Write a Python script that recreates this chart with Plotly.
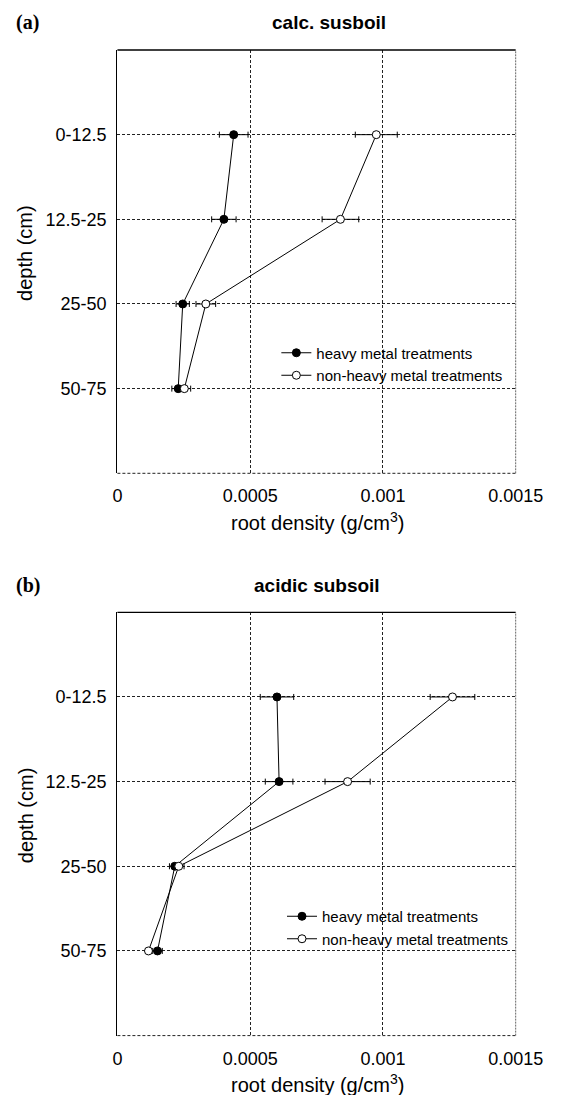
import plotly.graph_objects as go

W, H = 571, 1095

depth_labels = ["0-12.5", "12.5-25", "25-50", "50-75"]
depth_pos = [0, 1, 2, 3]

# panel (a) calc. subsoil
a_heavy = [0.000438, 0.000401, 0.000246, 0.000229]
a_heavy_err = [0.000054, 0.000046, 0.000025, 0.000024]
a_non = [0.000975, 0.000840, 0.000333, 0.000252]
a_non_err = [0.000079, 0.000069, 0.000037, 0.000024]

# panel (b) acidic subsoil
b_heavy = [0.000601, 0.000609, 0.000216, 0.000151]
b_heavy_err = [0.000063, 0.000052, 0.000020, 0.000018]
b_non = [0.001262, 0.000867, 0.000231, 0.000117]
b_non_err = [0.000084, 0.000085, 0.000020, 0.000008]

x_ticks = [0, 0.0005, 0.001, 0.0015]
x_ticktext = ["0", "0.0005", "0.001", "0.0015"]

series_names = ["heavy metal treatments", "non-heavy metal treatments"]

FONT = "Liberation Sans, Arial, Helvetica, sans-serif"
SERIF = "Liberation Serif, Times New Roman, serif"

def px_x(p):
    return p / W

def px_y(p):
    return 1 - p / H

PL, PR = 119.3, 542
PANEL_TOPS = [50, 612.3]
PANEL_H = 423.3

x_dom = [px_x(PL), px_x(PR)]
ya_dom = [px_y(PANEL_TOPS[0] + PANEL_H), px_y(PANEL_TOPS[0])]
yb_dom = [px_y(PANEL_TOPS[1] + PANEL_H), px_y(PANEL_TOPS[1])]

fig = go.Figure()

def add_series(vals, errs, name, filled, xa, ya, legend):
    fig.add_trace(go.Scatter(
        x=vals, y=depth_pos, mode="lines+markers", name=name,
        xaxis=xa, yaxis=ya, legend=legend,
        line=dict(color="black", width=1),
        marker=dict(symbol="circle", size=8,
                    color="black" if filled else "white",
                    line=dict(color="black", width=1)),
        error_x=dict(type="data", array=errs, visible=True,
                     color="black", thickness=1, width=3),
        cliponaxis=False,
    ))

add_series(a_heavy, a_heavy_err, series_names[0], True, "x", "y", "legend")
add_series(a_non, a_non_err, series_names[1], False, "x", "y", "legend")
add_series(b_heavy, b_heavy_err, series_names[0], True, "x2", "y2", "legend2")
add_series(b_non, b_non_err, series_names[1], False, "x2", "y2", "legend2")

grid = dict(showgrid=True, gridcolor="#222", gridwidth=1, griddash="3px,2px")

xcommon = dict(range=[0, 0.0015], tickvals=x_ticks, ticktext=x_ticktext,
               domain=x_dom, showline=False, zeroline=False, ticks="",
               tickfont=dict(family=FONT, size=18, color="black"),
               ticklabelstandoff=10, **grid)
ycommon = dict(range=[4, -1], tickvals=depth_pos, ticktext=depth_labels,
               showline=True, linecolor="black", linewidth=1.3,
               zeroline=False, ticks="",
               tickfont=dict(family=FONT, size=18, color="black"),
               ticklabelstandoff=6, **grid)

legend_common = dict(font=dict(family=FONT, size=15, color="black"),
                     bgcolor="rgba(0,0,0,0)", borderwidth=0, xanchor="left",
                     yanchor="top", tracegroupgap=0)

fig.update_layout(
    width=W, height=H, margin=dict(l=0, r=0, t=0, b=0),
    paper_bgcolor="white", plot_bgcolor="white",
    xaxis=dict(anchor="y", **xcommon),
    yaxis=dict(anchor="x", domain=ya_dom, **ycommon),
    xaxis2=dict(anchor="y2", **xcommon),
    yaxis2=dict(anchor="x2", domain=yb_dom, **ycommon),
    legend=dict(x=px_x(288), y=px_y(336.5), **legend_common),
    legend2=dict(x=px_x(294), y=px_y(900), **legend_common),
    showlegend=True,
)

def dom_x(p):
    return (p - PL) / (PR - PL)

def dom_y(p, top):
    return (top + PANEL_H - p) / PANEL_H

shapes = []
legend_boxes = [(270, 536, 340, 387), (276, 536, 903, 949.5)]
for (xa, ya), top, box in zip([("x", "y"), ("x2", "y2")], PANEL_TOPS, legend_boxes):
    # white patch behind legend (hides grid, like the original legend box)
    shapes.append(dict(type="rect", xref=f"{xa} domain", yref=f"{ya} domain",
                       x0=dom_x(box[0]), x1=dom_x(box[1]),
                       y0=dom_y(box[3], top), y1=dom_y(box[2], top),
                       fillcolor="white", line=dict(width=0), layer="below"))
    shapes.append(dict(type="line", xref=f"{xa} domain", yref=f"{ya} domain",
                       x0=0, x1=1, y0=1, y1=1,
                       line=dict(color="black", width=1.3)))
    shapes.append(dict(type="line", xref=f"{xa} domain", yref=f"{ya} domain",
                       x0=0, x1=1, y0=0, y1=0,
                       line=dict(color="#222", width=1, dash="3px,2px")))
    shapes.append(dict(type="line", xref=f"{xa} domain", yref=f"{ya} domain",
                       x0=1, x1=1, y0=0, y1=1,
                       line=dict(color="#666", width=1, dash="2px,1px")))
fig.update_layout(shapes=shapes)

ann = []
panels = [(0, "(a)", "calc. susboil", 344), (562.3, "(b)", "acidic subsoil", 331)]
for off, lab, title, tcx in panels:
    ann.append(dict(text=f"<b>{lab}</b>", x=px_x(10), y=px_y(22.7 + off),
                    xref="paper", yref="paper", xanchor="left", yanchor="middle",
                    showarrow=False, font=dict(family=SERIF, size=20, color="black")))
    ann.append(dict(text=f"<b>{title}</b>", x=px_x(tcx), y=px_y(22.7 + off),
                    xref="paper", yref="paper", xanchor="center", yanchor="middle",
                    showarrow=False, font=dict(family=FONT, size=19, color="black")))
    ann.append(dict(text="root density (g/cm<sup>3</sup>)", x=px_x(332), y=px_y(521 + off),
                    xref="paper", yref="paper", xanchor="center", yanchor="middle",
                    showarrow=False, font=dict(family=FONT, size=20, color="black")))
    ann.append(dict(text="depth (cm)", x=px_x(21.7), y=px_y(252.5 + off),
                    xref="paper", yref="paper", xanchor="center", yanchor="middle",
                    textangle=-90, showarrow=False,
                    font=dict(family=FONT, size=20, color="black")))
fig.update_layout(annotations=ann)

fig.write_html("out.html", config={"displayModeBar": False},
               post_script="document.body.style.margin='0';")
